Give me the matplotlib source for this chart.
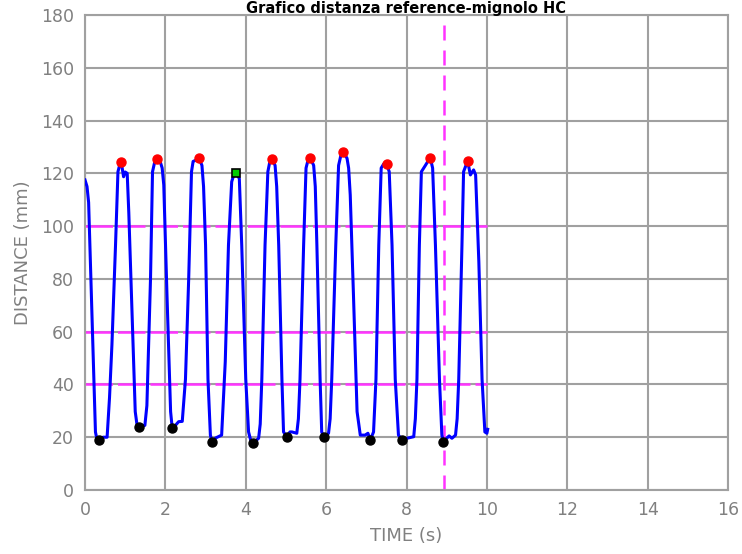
import numpy as np
import matplotlib.pyplot as plt

# signal (time in s, distance in mm)
time = [0.00, 0.05, 0.09, 0.17, 0.26, 0.30, 0.34, 0.45, 0.55, 0.61, 0.67, 0.76, 0.82, 0.86, 0.90,
        0.96, 1.00, 1.05, 1.09, 1.17, 1.25, 1.30, 1.34, 1.49, 1.54, 1.63, 1.68, 1.73, 1.79, 1.86,
        1.92, 1.96, 2.04, 2.13, 2.17, 2.25, 2.33, 2.42, 2.50, 2.58, 2.65, 2.69, 2.76, 2.83, 2.91,
        2.95, 3.00, 3.06, 3.12, 3.16, 3.24, 3.29, 3.40, 3.49, 3.57, 3.65, 3.71, 3.76, 3.84, 3.90,
        4.00, 4.07, 4.13, 4.19, 4.32, 4.36, 4.40, 4.48, 4.55, 4.60, 4.65, 4.73, 4.77, 4.82, 4.90,
        4.94, 5.02, 5.10, 5.15, 5.27, 5.31, 5.35, 5.44, 5.50, 5.55, 5.60, 5.69, 5.73, 5.77, 5.85,
        5.89, 5.94, 6.06, 6.10, 6.14, 6.24, 6.31, 6.37, 6.43, 6.52, 6.56, 6.60, 6.68, 6.77, 6.85,
        6.97, 7.04, 7.10, 7.18, 7.24, 7.31, 7.37, 7.43, 7.51, 7.57, 7.64, 7.72, 7.80, 7.89, 8.01,
        8.18, 8.22, 8.26, 8.32, 8.37, 8.47, 8.59, 8.65, 8.72, 8.82, 8.88, 8.92, 9.00, 9.06, 9.13,
        9.22, 9.26, 9.30, 9.38, 9.42, 9.52, 9.59, 9.67, 9.72, 9.80, 9.88, 9.95, 10.00, 10.02]
distance = [117.5, 115, 109, 67.6, 22, 19, 19, 20, 20, 35, 55, 93, 120.6, 123, 124.4,
            118.7, 120.5, 120, 105, 67.6, 29.7, 24, 24, 24.5, 32, 80, 120.6, 124, 125.4, 125,
            122, 115.6, 73.9, 29.7, 23.5, 24.5, 25.9, 26, 42, 80, 120.6, 124.5, 125, 126, 123,
            115, 92.8, 42, 20.8, 18.3, 19.6, 20, 20.8, 48.6, 92.8, 116.8, 119.8, 120.3, 118, 92.8,
            42, 22, 18.5, 17.9, 19.6, 25, 42, 92.8, 120.6, 124.5, 125.4, 123, 115, 92.8, 42,
            22, 20.2, 22, 22, 21.5, 27, 42, 92.8, 122, 125, 126, 123, 115, 92.8, 42,
            22, 20.2, 21.5, 27, 42, 92.8, 123, 127, 128, 125.7, 122, 111.8, 74, 29.7, 20.8,
            20.8, 21.5, 19, 22, 42, 92.8, 122, 123.5, 123.4, 120.6, 92.8, 42, 20.8, 19, 19.6,
            20.2, 27, 42, 92.8, 120.6, 123, 126, 122, 92.8, 42, 20.8, 18.3, 19.6, 20.5, 19.6,
            20.8, 27, 42, 92.8, 120.6, 124.7, 119.4, 121.3, 119.4, 86.5, 42, 22, 21.5, 23]

peak_t = [0.90, 1.79, 2.83, 4.65, 5.60, 6.43, 7.51, 8.59, 9.52]
peak_v = [124.4, 125.4, 126, 125.4, 126, 128, 123.4, 126, 124.7]
sel_peak_t = [3.76]
sel_peak_v = [120.3]
trough_t = [0.34, 1.34, 2.17, 3.16, 4.19, 5.02, 5.94, 7.10, 7.89, 8.92]
trough_v = [19, 24, 23.4, 18.3, 17.9, 20.2, 20.2, 19, 19, 18.3]

thresholds = [40, 60, 100]
cut_time = 8.93

GRAY = '#808080'

fig = plt.figure(figsize=(7.42, 5.54), dpi=100)
ax = fig.add_axes([85/742, 1 - 490/554, (728 - 85)/742, (490 - 15)/554])

ax.set_xlim(0, 16)
ax.set_ylim(0, 180)
ax.set_xticks(np.arange(0, 17, 2))
ax.set_yticks(np.arange(0, 181, 20))
ax.grid(True, color='#a0a0a0', linewidth=1.5)
ax.set_axisbelow(True)
for sp in ax.spines.values():
    sp.set_color('#a0a0a0')
    sp.set_linewidth(1.5)
ax.tick_params(length=0, labelsize=12.5, labelcolor=GRAY, pad=8)

for th in thresholds:
    ax.plot([0, 10], [th, th], color='#ff33ff', linewidth=1.8, dashes=(11, 2), zorder=2)
ax.plot([cut_time, cut_time], [0, 180], color='#ff33ff', linewidth=1.8,
        dashes=(6, 4), zorder=2)

ax.plot(time, distance, color='#0000ff', linewidth=2.2, zorder=3)
ax.plot(peak_t, peak_v, 'o', color='#ff0000', markersize=6.5, zorder=4)
ax.plot(trough_t, trough_v, 'o', color='black', markersize=6.5, zorder=4)
ax.plot(sel_peak_t, sel_peak_v, 's', color='#00cc00', markeredgecolor='black',
        markeredgewidth=1.2, markersize=5.5, zorder=4)

ax.set_xlabel('TIME (s)', fontsize=13, color=GRAY, labelpad=6)
ax.set_ylabel('DISTANCE (mm)', fontsize=13, color=GRAY, labelpad=6)
fig.text(406/742, 1 - 1/554, 'Grafico distanza reference-mignolo HC', ha='center', va='top',
         fontsize=10.5, fontweight='bold')

fig.savefig('out.png', dpi=100)
